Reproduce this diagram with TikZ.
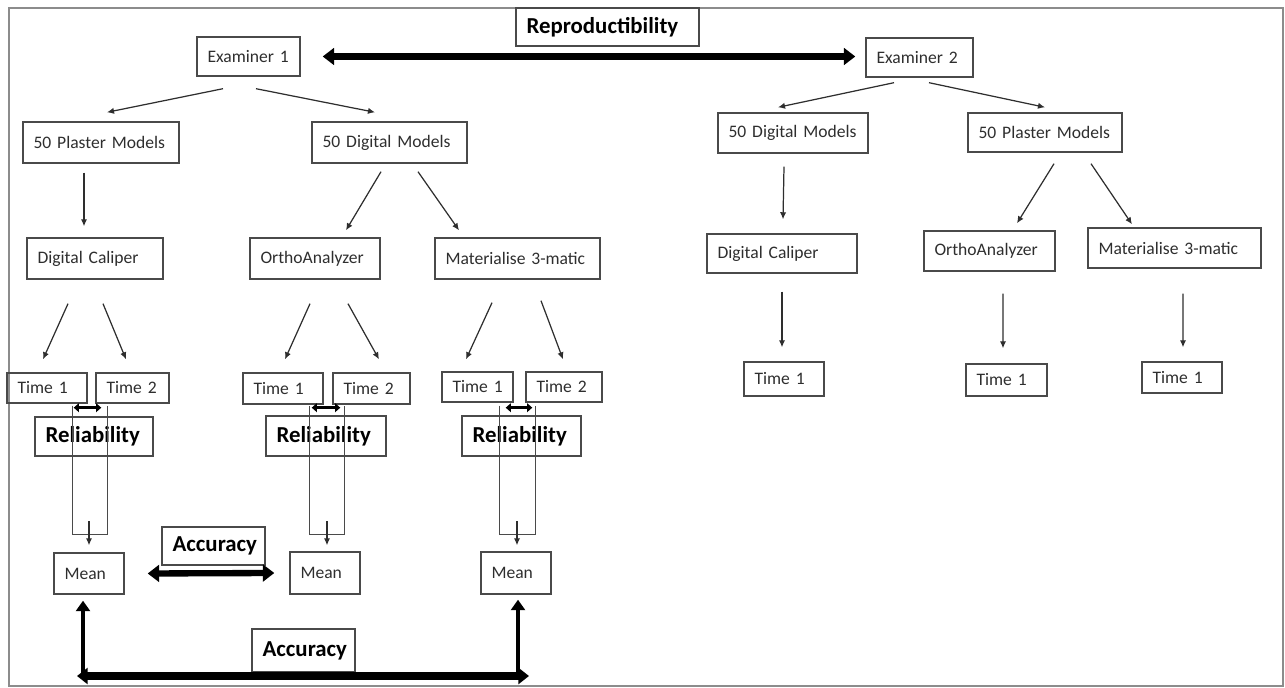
\documentclass[tikz,border=0pt]{standalone}
\usepackage{fontspec}
\setmainfont{Carlito}[WordSpace=0.8]
\usetikzlibrary{arrows.meta}
\definecolor{boxgray}{HTML}{4A4A4A}
\definecolor{txt}{HTML}{2E2E2E}
\definecolor{framegray}{HTML}{8C8C8C}
\tikzset{
  box/.style={draw=boxgray, line width=0.8pt, inner xsep=6pt, inner ysep=0pt, align=left,
    font=\fontsize{10}{12}\selectfont, text=txt},
  bbox/.style={box, font=\bfseries\fontsize{13}{15}\selectfont, text=black},
  arr/.style={draw=txt, line width=0.7pt, -{Latex[length=4pt,width=3.6pt]}},
  uline/.style={draw=boxgray, line width=0.8pt},
  dbl/.style={draw=black, line width=1.7pt, {Triangle[length=3pt,width=5pt]}-{Triangle[length=3pt,width=5pt]}},
  fat/.style={draw=black, line width=3.6pt, {Triangle[length=6.5pt,width=9.5pt]}-{Triangle[length=6.5pt,width=9.5pt]}},
  fatv/.style={draw=black, line width=2.8pt, -{Triangle[length=6pt,width=8pt]}},
  fath/.style={draw=black, line width=4pt, {Triangle[length=6pt,width=9pt]}-{Triangle[length=6pt,width=9pt]}},
}
\newcommand{\bx}[7][box]{%
  \pgfmathsetmacro\bw{(#5-#3)*0.56906-12}%
  \pgfmathsetmacro\bh{(#6-#4)*0.56906}%
  \node[#1, text width=\bw pt, minimum height=\bh pt] (#2) at ({(#3+#5)/2},{(#4+#6)/2}) {\mbox{#7}};}
\begin{document}
\begin{tikzpicture}[x=0.02cm, y=-0.02cm]
\useasboundingbox (0,0) rectangle (1285,688);
\draw[framegray, line width=1.2pt] (9,8) rectangle (1283,686);
% top
\bx[bbox]{rep}{516}{8}{699}{46}{Reproductibility}
\bx{ex1}{197}{37}{300}{76}{Examiner 1}
\bx{ex2}{866}{38}{973}{77}{Examiner 2}
% left branch
\bx{pl1}{23}{122}{179}{163}{50 Plaster Models}
\bx{dg1}{312}{122}{467}{163}{50 Digital Models}
\bx{dc1}{27}{238}{163}{279}{Digital Caliper}
\bx{oa1}{250}{238}{380}{279}{OrthoAnalyzer}
\bx{ma1}{435}{238}{600}{279}{Materialise 3-matic}
\bx{t11}{7}{373}{87}{403}{Time 1}
\bx{t21}{96}{373}{169}{403}{Time 2}
\bx{t12}{243}{373}{323}{404}{Time 1}
\bx{t22}{333}{373}{410}{404}{Time 2}
\bx{t13}{442}{372}{513}{402}{Time 1}
\bx{t23}{526}{372}{602}{402}{Time 2}
\bx[bbox]{rl1}{35}{417}{153}{456}{Reliability}
\bx[bbox]{rl2}{266}{416}{386}{456}{Reliability}
\bx[bbox]{rl3}{462}{416}{581}{456}{Reliability}
\bx{mn1}{54}{553}{124}{594}{Mean}
\bx{mn2}{290}{552}{360}{594}{Mean}
\bx{mn3}{481}{552}{551}{594}{Mean}
\bx[bbox]{acc1}{162}{527}{265}{565}{Accuracy}
\bx[bbox]{acc2}{252}{629}{355}{672}{Accuracy}
% right branch
\bx{dg2}{718}{113}{868}{153}{50 Digital Models}
\bx{pl2}{968}{113}{1122}{152}{50 Plaster Models}
\bx{dc2}{707}{234}{857}{273}{Digital Caliper}
\bx{oa2}{924}{231}{1055}{271}{OrthoAnalyzer}
\bx{ma2}{1088}{228}{1261}{268}{Materialise 3-matic}
\bx{tr1}{744}{362}{824}{396}{Time 1}
\bx{tr2}{966}{364}{1047}{396}{Time 1}
\bx{tr3}{1142}{362}{1222}{393}{Time 1}
% thin arrows
\draw[arr] ([shift={(-25.5,12)}]ex1.south) -- ([shift={(6,-9)}]pl1.north);
\draw[arr] ([shift={(7.5,12)}]ex1.south) -- ([shift={(-14.5,-9)}]dg1.north);
\draw[arr] ([shift={(-25.5,5)}]ex2.south) -- ([shift={(-15,-5)}]dg2.north);
\draw[arr] ([shift={(9.5,5)}]ex2.south) -- ([shift={(0,-5)}]pl2.north);
\draw[arr] ([shift={(-17,9)}]pl1.south) -- ([shift={(-11,-11)}]dc1.north);
\draw[arr] ([shift={(-8.5,8)}]dg1.south) -- ([shift={(31,-7)}]oa1.north);
\draw[arr] ([shift={(28.5,8)}]dg1.south) -- ([shift={(-58.5,-7)}]ma1.north);
\draw[arr] ([shift={(-27,24)}]dc1.south) -- ([shift={(-4,-13)}]t11.north);
\draw[arr] ([shift={(8,24)}]dc1.south) -- ([shift={(-6.5,-13)}]t21.north);
\draw[arr] ([shift={(-5,24)}]oa1.south) -- ([shift={(2,-13)}]t12.north);
\draw[arr] ([shift={(33,24)}]oa1.south) -- ([shift={(7.5,-13)}]t22.north);
\draw[arr] ([shift={(-25.5,23)}]ma1.south) -- ([shift={(-11.5,-12)}]t13.north);
\draw[arr] ([shift={(23.5,21)}]ma1.south) -- ([shift={(-1,-12)}]t23.north);
\draw[arr] ([shift={(-9,13)}]dg2.south) -- ([shift={(1,-14)}]dc2.north);
\draw[arr] ([shift={(0,18)}]dc2.south) -- ([shift={(-2,-14)}]tr1.north);
\draw[arr] ([shift={(9,11)}]pl2.south) -- ([shift={(27.5,-7)}]oa2.north);
\draw[arr] ([shift={(46,11)}]pl2.south) -- ([shift={(-42.5,-3)}]ma2.north);
\draw[arr] ([shift={(13.5,22)}]oa2.south) -- ([shift={(-3.5,-15)}]tr2.north);
\draw[arr] ([shift={(8.5,25)}]ma2.south) -- ([shift={(1,-14)}]tr3.north);
% reliability brackets
\draw[uline] ([shift={(-15,2)}]t11.south east) -- ++(0,129) -| ([shift={(12,2)}]t21.south west);
\draw[uline] ([shift={(-14,1)}]t12.south east) -- ++(0,129) -| ([shift={(12,1)}]t22.south west);
\draw[uline] ([shift={(-14,3)}]t13.south east) -- ++(0,129) -| ([shift={(10,3)}]t23.south west);
\draw[dbl] ([shift={(-14,4)}]t11.south east) -- ([shift={(6,4)}]t21.south west);
\draw[dbl] ([shift={(-12,3)}]t12.south east) -- ([shift={(8,3)}]t22.south west);
\draw[dbl] ([shift={(-8,5)}]t13.south east) -- ([shift={(7,5)}]t23.south west);
\draw[arr] ([shift={(0,-31)}]mn1.north) -- ([shift={(0,-7)}]mn1.north);
\draw[arr] ([shift={(2,-30)}]mn2.north) -- ([shift={(2,-6)}]mn2.north);
\draw[arr] ([shift={(1,-30)}]mn3.north) -- ([shift={(1,-6)}]mn3.north);
% thick arrows
\draw[fat] ([shift={(22,0)}]ex1.east) -- ([shift={(-10,-1)}]ex2.west);
\draw[fat] ([shift={(23,0)}]mn1.east) -- ([shift={(-15,0)}]mn2.west);
\coordinate (bl) at (83,676);
\coordinate (br) at (518,676);
\draw[fatv] (bl) -- ([shift={(-6,6)}]mn1.south);
\draw[fatv] (br) -- ([shift={(2,5)}]mn3.south);
\draw[fath] ([shift={(-6,0)}]bl) -- ([shift={(11,0)}]br);
\end{tikzpicture}
\end{document}
